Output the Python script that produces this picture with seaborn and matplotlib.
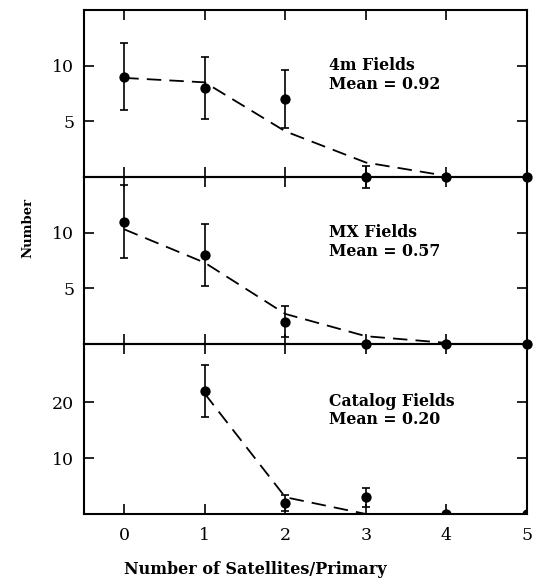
import numpy as np
import pandas as pd
import matplotlib
matplotlib.use("Agg")
import matplotlib.pyplot as plt
import seaborn as sns

# ---- data ----
n_sat = [0, 1, 2, 3, 4, 5]

m4_counts = [9, 8, 7, 0, 0, 0]
m4_err = [3.0, 2.8, 2.6, 1.0, 0.0, 0.0]
m4_model_x = [0, 1, 2, 3, 4]
m4_model = [8.9, 8.5, 4.1, 1.3, 0.1]

mx_counts = [11, 8, 2, 0, 0, 0]
mx_err = [3.3, 2.8, 1.4, 0.0, 0.0, 0.0]
mx_model_x = [0, 1, 2, 3, 4]
mx_model = [10.3, 7.3, 2.7, 0.7, 0.1]

cat_x = [1, 2, 3, 4, 5]
cat_counts = [22, 2, 3, 0, 0]
cat_err = [4.7, 1.4, 1.7, 0.0, 0.0]
cat_model_x = [1, 2, 3]
cat_model = [21.5, 3.0, 0.0]

panel_labels = ["4m Fields\nMean = 0.92", "MX Fields\nMean = 0.57", "Catalog Fields\nMean = 0.20"]
panel_ylims = [(0, 15), (0, 15), (0, 30.4)]
panel_yticks = [[5, 10], [5, 10], [10, 20]]
xtick_vals = [0, 1, 2, 3, 4, 5]

sns.set_style("ticks")
plt.rcParams['font.family'] = ['DejaVu Serif']
plt.rcParams['text.color'] = 'black'
plt.rcParams['axes.labelcolor'] = 'black'
plt.rcParams['xtick.color'] = 'black'
plt.rcParams['ytick.color'] = 'black'
plt.rcParams['axes.edgecolor'] = 'black'

fig = plt.figure(figsize=(5.35, 5.79), dpi=100)
left, right = 84/535, 527/535
tops = [10, 177, 344]
bots = [177, 344, 514]
H = 579

panels = [
    (n_sat, m4_counts, m4_err, m4_model_x, m4_model),
    (n_sat, mx_counts, mx_err, mx_model_x, mx_model),
    (cat_x, cat_counts, cat_err, cat_model_x, cat_model),
]

axes = []
for i, (xs, ys, es, mxs, mys) in enumerate(panels):
    ax = fig.add_axes([left, 1 - bots[i]/H, right - left, (bots[i] - tops[i])/H])
    ax.set_facecolor("none")
    ax.set_zorder(10 - i)
    axes.append(ax)
    df_m = pd.DataFrame({"x": mxs, "y": mys})
    sns.lineplot(data=df_m, x="x", y="y", ax=ax, color="black", lw=1.3,
                 linestyle=(0, (8, 4.5)))
    es_arr = np.array(es)
    mask = es_arr > 0
    ax.errorbar(np.array(xs)[mask], np.array(ys)[mask], yerr=es_arr[mask],
                fmt="none", ecolor="black", elinewidth=1.2, capsize=3, capthick=1.2,
                clip_on=False)
    df_p = pd.DataFrame({"x": xs, "y": ys})
    sns.scatterplot(data=df_p, x="x", y="y", ax=ax, color="black", s=55,
                    edgecolor="black", linewidth=0, zorder=5)
    if i < 2:
        for c in ax.collections:
            c.set_clip_on(False)
    ax.set_xlim(-0.5, 5)
    ax.set_ylim(*panel_ylims[i])
    ax.set_yticks(panel_yticks[i])
    ax.set_xticks(xtick_vals)
    ax.tick_params(direction="in", length=7, width=1.2, top=True, right=True,
                   labelsize=12.5)
    ax.tick_params(axis="x", pad=9)
    ax.tick_params(axis="y", pad=7)
    for s in ax.spines.values():
        s.set_visible(True)
        s.set_linewidth(1.5)
    ax.set_xlabel("")
    ax.set_ylabel("")
    if i < 2:
        ax.tick_params(labelbottom=False)
    ax.text(0.553, 0.61, panel_labels[i], transform=ax.transAxes, ha="left",
            va="center", fontsize=11.3, fontweight="bold", linespacing=1.1)

fig.text(255/535, 1 - 569/579, "Number of Satellites/Primary", ha="center", va="center",
         fontsize=11.5, fontweight="bold")
fig.text(28/535, 1 - 228/579, "Number", rotation=90, ha="center", va="center",
         fontsize=9.5, fontweight="bold")

fig.savefig("out.png", dpi=100)
